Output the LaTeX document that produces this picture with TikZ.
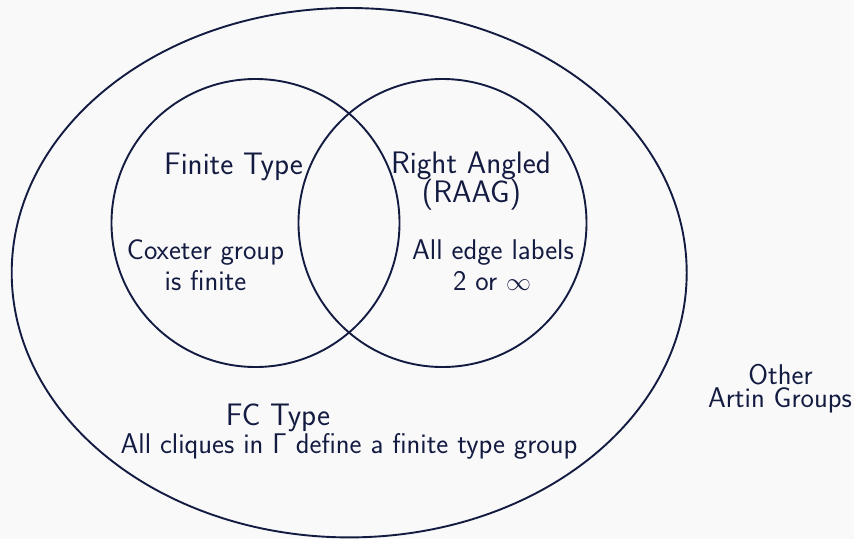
\documentclass[tikz,border=0pt]{standalone}
\definecolor{ink}{HTML}{141B41}
\definecolor{paper}{HTML}{F9F9FA}
\newcommand{\bodysize}{\fontsize{28.5}{31}\selectfont}
\newcommand{\headsize}{\fontsize{31.1}{31}\selectfont}
\begin{document}
\begin{tikzpicture}[x=1pt,y=-1pt,
  ring/.style={draw=ink, line width=1.9pt},
  lbl/.style={text=ink, inner sep=0pt, anchor=base, font=\sffamily\bodysize},
  head/.style={lbl, font=\sffamily\headsize}]
  % canvas
  \fill[paper] (0,0) rectangle (854,539);
  \useasboundingbox (0,0) rectangle (854,539);

  % the sets
  \draw[ring] (349.2,272.7) ellipse [x radius=337.5pt, y radius=264.7pt];
  \draw[ring] (255.5,223) circle [radius=144pt];
  \draw[ring] (442.5,223) circle [radius=144pt];

  % finite type
  \node[head] (ft)  at (233.5,174) {Finite Type};
  \node[lbl]  (cx1) at (205.5,259) {Coxeter group};
  \node[lbl]  (cx2) at (205.5,290) {is finite};

  % right angled
  \node[head] (ra1) at (471,173) {Right Angled};
  \node[head] (ra2) at (471.5,202) {(RAAG)};
  \node[lbl]  (el1) at (493,259) {All edge labels};
  \node[lbl]  (el2) at (492,290) {2 or $\infty$};

  % FC type
  \node[head] (fc1) at (278,425) {FC Type};
  \node[lbl]  (fc2) at (349,453) {All cliques in Γ define a finite type group};

  % outside
  \node[lbl]  (ot1) at (780.5,384) {Other};
  \node[lbl]  (ot2) at (780,407) {Artin Groups};
\end{tikzpicture}
\end{document}
